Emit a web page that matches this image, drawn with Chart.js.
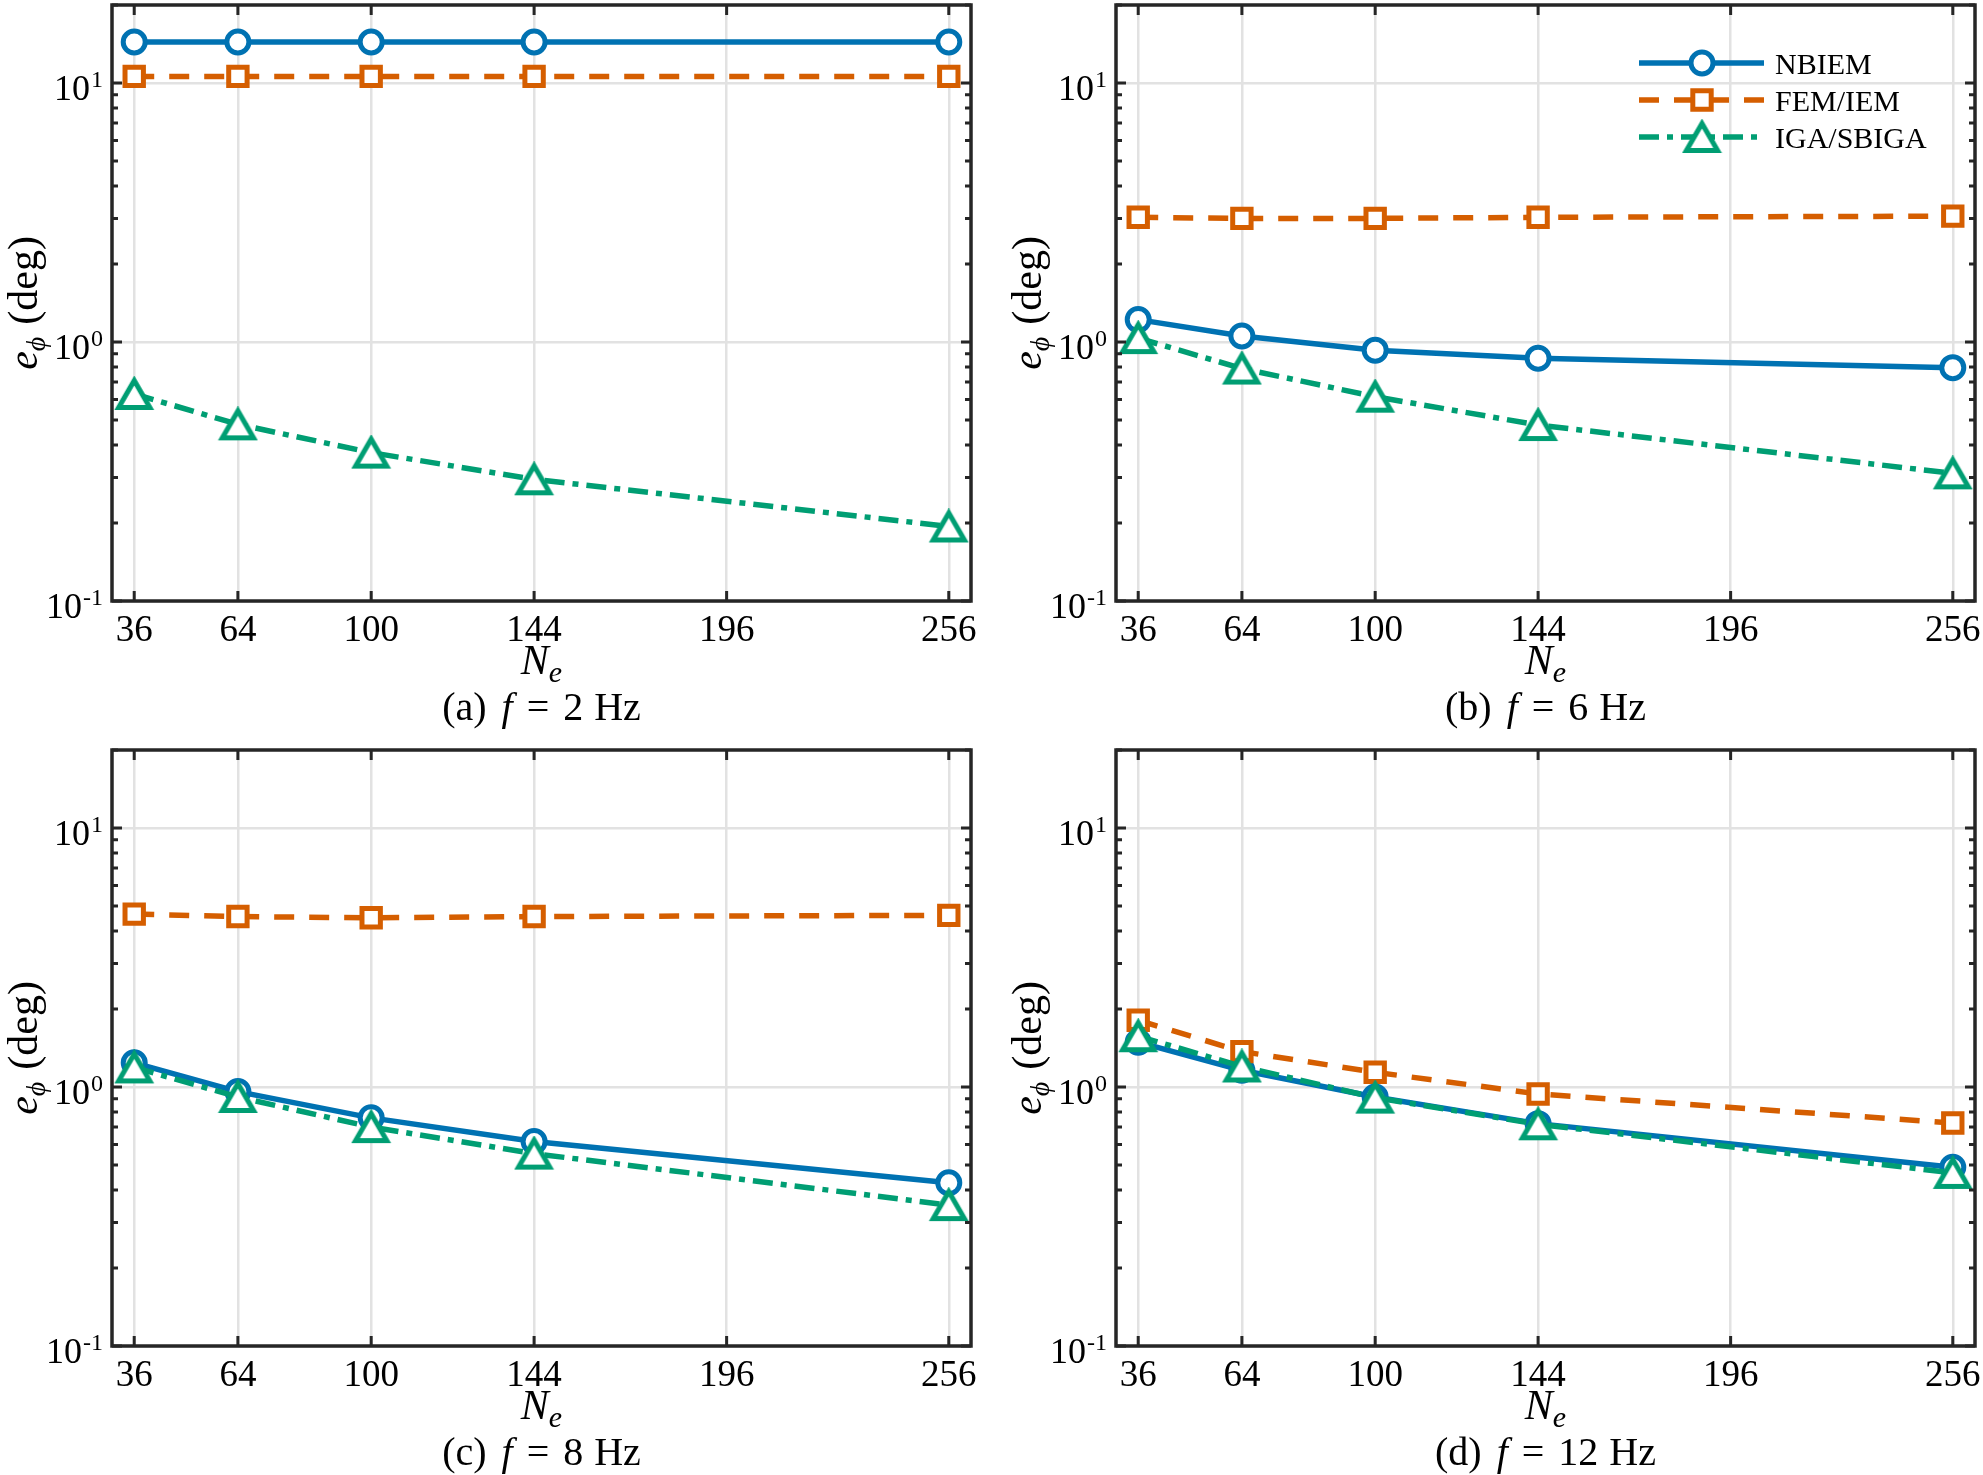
<!DOCTYPE html>
<html>
<head>
<meta charset="utf-8">
<script src="https://cdn.jsdelivr.net/npm/chart.js@4.4.1/dist/chart.umd.min.js"></script>
<style>
  html, body { margin: 0; padding: 0; background: #fff; }
  body { width: 1983px; height: 1475px; position: relative; overflow: hidden; }
  canvas { position: absolute; }
</style>
</head>
<body>
<canvas id="pa"></canvas>
<canvas id="pb"></canvas>
<canvas id="pc"></canvas>
<canvas id="pd"></canvas>
<script>
// Number of elements on the x axis
const NE = [36, 64, 100, 144, 256];
const xTicks = [36, 64, 100, 144, 196, 256];
const yDecades = [0.1, 1, 10];
const seriesNames = ['NBIEM', 'FEM/IEM', 'IGA/SBIGA'];
const panelTags = ['(a)', '(b)', '(c)', '(d)'];
const freqs = [2, 6, 8, 12];

// phase error e_phi (deg)
const nbiemA = [14.4, 14.4, 14.4, 14.4, 14.4];
const femA   = [10.6, 10.6, 10.6, 10.6, 10.6];
const igaA   = [0.63, 0.481, 0.374, 0.295, 0.194];

const nbiemB = [1.22, 1.055, 0.93, 0.865, 0.796];
const femB   = [3.03, 3.0, 3.0, 3.03, 3.06];
const igaB   = [1.035, 0.79, 0.615, 0.478, 0.311];

const nbiemC = [1.24, 0.96, 0.76, 0.616, 0.427];
const femC   = [4.65, 4.55, 4.5, 4.55, 4.6];
const igaC   = [1.19, 0.915, 0.70, 0.553, 0.35];

const nbiemD = [1.49, 1.16, 0.915, 0.722, 0.49];
const femD   = [1.81, 1.37, 1.14, 0.94, 0.726];
const igaD   = [1.57, 1.2, 0.91, 0.718, 0.466];

const panelData = [
    [nbiemA, femA, igaA],
    [nbiemB, femB, igaB],
    [nbiemC, femC, igaC],
    [nbiemD, femD, igaD]
];

const COLORS = ['#0072B2', '#D55E00', '#009E73'];
const DASHES = [[], [20, 15], [20, 8, 6, 8]];
const RADII = [11, 13, 18];
const AXIS = '#262626';
const GRID = '#e2e2e2';
const FONT = '"Liberation Serif", "Times New Roman", serif';

// MATLAB-style '^' marker: triangle centred on its bounding box
function makeTriangle(color, r, bw) {
    const w = Math.sqrt(3) * r, h = 1.5 * r;
    const c = document.createElement('canvas');
    c.width = Math.ceil(w + bw + 4);
    c.height = Math.ceil(h + bw + 4);
    const g = c.getContext('2d');
    const cx = c.width / 2, cy = c.height / 2;
    g.beginPath();
    g.moveTo(cx, cy - h / 2);
    g.lineTo(cx + w / 2, cy + h / 2);
    g.lineTo(cx - w / 2, cy + h / 2);
    g.closePath();
    g.fillStyle = '#fff';
    g.fill();
    g.lineWidth = bw;
    g.lineJoin = 'miter';
    g.strokeStyle = color;
    g.stroke();
    return c;
}
const triangleImg = makeTriangle(COLORS[2], RADII[2], 5);
const MARKERS = ['circle', 'rect', triangleImg];

// y ticks: decades plus 2..9 minors, up to 20
const yTickVals = [];
yDecades.forEach(d => {
    for (let k = 1; k <= 9; k++) {
        const v = +(k * d).toPrecision(3);
        if (v <= 20) yTickVals.push(v);
    }
});
yTickVals.push(20);

function isDecade(v) {
    const l = Math.log10(v);
    return Math.abs(l - Math.round(l)) < 1e-9;
}

// draw a row of text pieces centered at cx, baseline y ({gap} = blank space)
function drawRuns(ctx, runs, cx, y) {
    let total = 0;
    runs.forEach(r => {
        if (r.gap) { r.w = r.gap; } else { ctx.font = r.font; r.w = ctx.measureText(r.text).width; }
        total += r.w;
    });
    let x = cx - total / 2;
    ctx.textAlign = 'left';
    ctx.textBaseline = 'alphabetic';
    runs.forEach(r => {
        if (!r.gap) {
            ctx.font = r.font;
            ctx.fillText(r.text, x, y + (r.dy || 0));
        }
        x += r.w;
    });
}

function drawMarker(ctx, style, x, y, r, color, bw) {
    ctx.save();
    ctx.setLineDash([]);
    if (typeof style !== 'string') {
        ctx.drawImage(style, x - style.width / 2, y - style.height / 2);
        ctx.restore();
        return;
    }
    ctx.strokeStyle = color;
    ctx.fillStyle = '#fff';
    ctx.lineWidth = bw;
    ctx.beginPath();
    if (style === 'circle') {
        ctx.arc(x, y, r, 0, Math.PI * 2);
    } else {
        const s = r / Math.SQRT2;
        ctx.rect(x - s, y - s, 2 * s, 2 * s);
    }
    ctx.fill();
    ctx.stroke();
    ctx.restore();
}

const framePlugin = {
    id: 'frame',
    afterDraw(chart, args, opts) {
        const ctx = chart.ctx;
        const a = chart.chartArea;
        const xs = chart.scales.x, ys = chart.scales.y;
        ctx.save();
        ctx.strokeStyle = AXIS;
        ctx.fillStyle = '#000';
        ctx.lineWidth = 3;
        // tick marks, inward
        ctx.beginPath();
        xTicks.forEach(v => {
            const px = xs.getPixelForValue(v);
            ctx.moveTo(px, a.bottom); ctx.lineTo(px, a.bottom - 10);
            ctx.moveTo(px, a.top); ctx.lineTo(px, a.top + 10);
        });
        ys.ticks.forEach(t => {
            const py = ys.getPixelForValue(t.value);
            const len = isDecade(t.value) ? 10 : 6;
            ctx.moveTo(a.left, py); ctx.lineTo(a.left + len, py);
            ctx.moveTo(a.right, py); ctx.lineTo(a.right - len, py);
        });
        ctx.stroke();
        // box
        ctx.lineWidth = 3.5;
        ctx.strokeRect(a.left, a.top, a.right - a.left, a.bottom - a.top);

        // x tick labels
        ctx.font = '37px ' + FONT;
        ctx.textAlign = 'center';
        ctx.textBaseline = 'alphabetic';
        xTicks.forEach(v => {
            ctx.fillText(String(v), xs.getPixelForValue(v), a.bottom + 40);
        });

        // y tick labels 10^n
        yDecades.forEach(d => {
            const py = ys.getPixelForValue(d);
            const ex = String(Math.round(Math.log10(d)));
            ctx.textAlign = 'right';
            ctx.textBaseline = 'alphabetic';
            ctx.font = '24px ' + FONT;
            const ew = ctx.measureText(ex).width;
            const xr = a.left - 9;
            ctx.fillText(ex, xr, py + 4);
            ctx.font = '36px ' + FONT;
            ctx.fillText('10', xr - ew - 1, py + 17);
        });

        const cx = (a.left + a.right) / 2;
        const cy = (a.top + a.bottom) / 2;

        // x label N_e
        drawRuns(ctx, [
            { text: 'N', font: 'italic 42px ' + FONT },
            { text: 'e', font: 'italic 30px ' + FONT, dy: 8 }
        ], cx, a.bottom + 73);

        // caption
        drawRuns(ctx, [
            { text: opts.tag, font: '40px ' + FONT },
            { gap: 15 },
            { text: 'f', font: 'italic 40px ' + FONT },
            { gap: 14 },
            { text: '=', font: '40px ' + FONT },
            { gap: 14 },
            { text: String(opts.freq), font: '40px ' + FONT },
            { gap: 11 },
            { text: 'Hz', font: '40px ' + FONT }
        ], cx, a.bottom + 119);

        // y label, rotated
        ctx.save();
        ctx.translate(a.left - 75, cy);
        ctx.rotate(-Math.PI / 2);
        drawRuns(ctx, [
            { text: 'e', font: 'italic 42px ' + FONT },
            { text: '\u03D5', font: 'italic 28px ' + FONT, dy: 8 },
            { gap: 12 },
            { text: '(deg)', font: '42px ' + FONT }
        ], 0, 0);
        ctx.restore();

        // legend (panel b only)
        if (opts.legend) {
            const x0 = opts.legend.x, y0 = opts.legend.y;
            chart.data.datasets.forEach((ds, i) => {
                const y = y0 + i * 37;
                ctx.save();
                ctx.strokeStyle = ds.borderColor;
                ctx.lineWidth = ds.borderWidth;
                ctx.setLineDash(ds.borderDash || []);
                ctx.beginPath();
                ctx.moveTo(x0, y); ctx.lineTo(x0 + 125, y);
                ctx.stroke();
                ctx.restore();
                drawMarker(ctx, ds.pointStyle, x0 + 63, y, ds.pointRadius, ds.borderColor, ds.pointBorderWidth);
                ctx.font = '30px ' + FONT;
                ctx.fillStyle = '#000';
                ctx.textAlign = 'left';
                ctx.textBaseline = 'alphabetic';
                ctx.fillText(ds.label, x0 + 136, y + 11);
            });
        }
        ctx.restore();
    }
};

// absolute page layout of the four axes
const cols = [{ x0: 0, w: 992, L: 112, R: 971 }, { x0: 992, w: 991, L: 1116, R: 1975 }];
const rows = [{ y0: 0, h: 738, T: 5, B: 601 }, { y0: 738, h: 737, T: 750, B: 1346 }];
const ids = ['pa', 'pb', 'pc', 'pd'];

ids.forEach((id, p) => {
    const col = cols[p % 2], row = rows[Math.floor(p / 2)];
    const canvas = document.getElementById(id);
    canvas.width = col.w; canvas.height = row.h;
    canvas.style.left = col.x0 + 'px'; canvas.style.top = row.y0 + 'px';
    canvas.style.width = col.w + 'px'; canvas.style.height = row.h + 'px';

    const datasets = panelData[p].map((vals, i) => ({
        label: seriesNames[i],
        data: NE.map((x, k) => ({ x: x, y: vals[k] })),
        borderColor: COLORS[i],
        borderWidth: 5.5,
        borderDash: DASHES[i],
        pointStyle: MARKERS[i],
        pointRadius: RADII[i],
        pointHoverRadius: RADII[i],
        pointBorderWidth: 5,
        pointBackgroundColor: '#ffffff',
        pointBorderColor: COLORS[i],
        fill: false,
        tension: 0,
        clip: false,
        order: 3 - i
    }));

    new Chart(canvas.getContext('2d'), {
        type: 'line',
        data: { datasets: datasets },
        options: {
            responsive: false,
            animation: false,
            events: [],
            devicePixelRatio: 1,
            layout: {
                autoPadding: false,
                padding: {
                    left: col.L - col.x0,
                    right: col.x0 + col.w - col.R,
                    top: row.T - row.y0,
                    bottom: row.y0 + row.h - row.B
                }
            },
            plugins: {
                legend: { display: false },
                tooltip: { enabled: false },
                frame: {
                    tag: panelTags[p],
                    freq: freqs[p],
                    legend: p === 1 ? { x: 1639 - col.x0, y: 63 - row.y0 } : null
                }
            },
            scales: {
                x: {
                    type: 'linear',
                    min: 30,
                    max: 262,
                    afterBuildTicks: s => { s.ticks = xTicks.map(v => ({ value: v })); },
                    afterFit: s => { s.height = 0; },
                    ticks: { display: false },
                    border: { display: false },
                    grid: { color: GRID, lineWidth: 2.5, drawTicks: false }
                },
                y: {
                    type: 'logarithmic',
                    min: 0.1,
                    max: 20,
                    afterBuildTicks: s => { s.ticks = yTickVals.map(v => ({ value: v })); },
                    afterFit: s => { s.width = 0; },
                    ticks: { display: false },
                    border: { display: false },
                    grid: {
                        color: c => (c.tick && isDecade(c.tick.value)) ? GRID : 'rgba(0,0,0,0)',
                        lineWidth: 2.5,
                        drawTicks: false
                    }
                }
            }
        },
        plugins: [framePlugin]
    });
});
</script>
</body>
</html>
